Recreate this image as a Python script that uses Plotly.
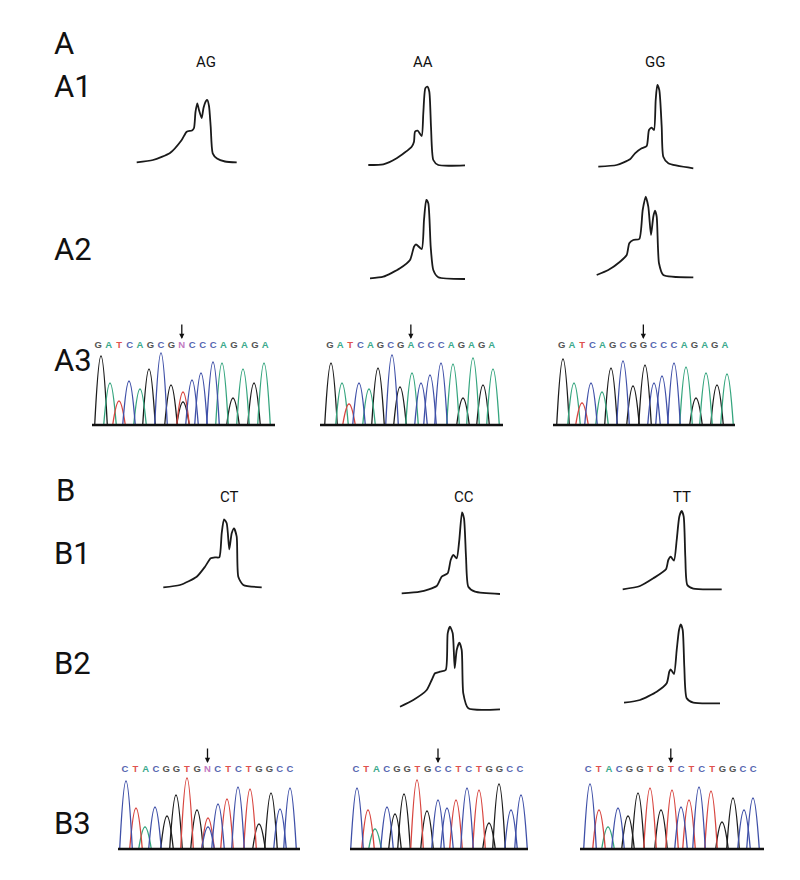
import plotly.graph_objects as go

# the page body keeps its default 8px margin, so the figure is drawn 8px in
PAGE_OFF = 8
W, H = 784, 864
FONT = "Roboto, DejaVu Sans, sans-serif"

# ---- melting curves (x: temperature offset, y: -dF/dT, panel units) ----
A1_AG_X = [6.7, 23, 40, 51.7, 56.7, 62, 64, 65.5, 67.3, 69, 71.7, 73.5, 76, 77.3, 79, 80.7, 82.7, 87, 95, 106.7]
A1_AG_Y = [7.7, 10, 17, 30, 38.3, 39.5, 42, 58, 66.7, 60, 52, 62, 69, 70, 64, 43.3, 16.7, 11.5, 8.5, 7.7]

A1_AA_X = [8.3, 23.3, 36.7, 51.7, 54, 55, 57.7, 61.7, 63.3, 65.3, 67.3, 69.3, 71, 73.3, 78.3, 105]
A1_AA_Y = [7, 7.7, 13.7, 25.3, 30.3, 40.3, 41.3, 36, 58.7, 83.7, 85.3, 80.3, 45.3, 12, 7, 6.7]

A1_GG_X = [8.3, 26.7, 40, 45, 51.7, 56.7, 59, 61.7, 64, 65.7, 67.3, 69.3, 71.7, 73.3, 78.3, 103.3]
A1_GG_Y = [5.3, 7, 12.7, 18.7, 23.7, 26, 42, 44.3, 42, 72, 87, 82, 45.3, 15.3, 8.7, 3.7]

A2_AA_X = [10, 23.3, 40, 50, 54, 56, 61.7, 64, 66.3, 68.3, 70.7, 73.3, 78.3, 105]
A2_AA_Y = [6.7, 8.3, 16.7, 25, 38.3, 40.7, 36, 65, 85, 81.7, 38.3, 15, 7.7, 6]

A2_GG_X = [6.7, 18.3, 30, 36.7, 39.3, 43.3, 49.3, 52.7, 55.7, 58.3, 61, 63.3, 65, 66.7, 69, 73.3, 103.3]
A2_GG_Y = [10, 15, 23.3, 30, 41.7, 45, 46, 75, 88.3, 78.3, 50, 68.3, 74.3, 68.3, 21.7, 10, 7.7]

B1_CT_X = [8.3, 25, 41.7, 50, 55.7, 60, 64.3, 66.7, 69, 71.7, 74.3, 76.7, 79, 81.7, 83.3, 88.3, 106.7]
B1_CT_Y = [7.7, 10, 18.3, 28.3, 36.7, 37.7, 37.7, 61.7, 75.7, 71.7, 45.7, 61.7, 66.7, 58.3, 18.3, 10, 7.7]

B1_CC_X = [6.7, 25, 41.7, 46.7, 52.7, 55.7, 58.3, 61.7, 64.3, 67, 69, 71, 73.3, 80, 105]
B1_CC_Y = [6.7, 8.3, 14, 23.3, 26.7, 40, 45, 41.7, 60, 87.7, 81.7, 43.3, 13.3, 8.3, 6]

B1_TT_X = [7.7, 25, 38.3, 51, 53.3, 55.7, 59, 61.7, 64.3, 66.7, 68.7, 70.3, 72.3, 78.3, 106.7]
B1_TT_Y = [7.7, 11, 18.7, 27.7, 37, 40.3, 36.3, 57, 80.3, 86, 80.3, 40.3, 12, 8.3, 7.7]

B2_CC_X = [5, 18.3, 31.7, 36.7, 40, 45, 50.7, 52.7, 55, 57.7, 59.7, 61.7, 64.3, 66.7, 68.3, 73.3, 105]
B2_CC_Y = [8.3, 15, 25, 35, 41.7, 43.3, 45, 81.7, 88.3, 81.7, 46.7, 65, 72.3, 65, 21.7, 6.7, 5.7]

B2_TT_X = [9, 25, 41.7, 51.7, 54.3, 55.7, 59, 61.7, 64, 65.7, 67.7, 69.3, 71.7, 78.3, 105]
B2_TT_Y = [9.3, 12, 20.3, 28.7, 40.3, 42.7, 38, 62, 82, 87.7, 82, 45.3, 13.7, 9.3, 8.7]

# ---- sequencing traces: called sequence, peak positions, peak heights ----
A3_AG_SEQ = "GATCAGCGNCCCAGAGA"
A3_AG_PEAK_BASE = "GATCAGCGTCCCAGAGA"
A3_AG_POS = [9, 18, 27, 37, 48, 57, 69, 79, 91, 100, 109, 121, 130, 141, 151, 162, 172]
A3_AG_HT = [69, 42, 24, 44, 36, 56, 72, 40, 33, 45, 52, 63, 62, 27, 56, 42, 62]
A3_AG_HET = ("G", 23)

A3_AA_SEQ = "GATCAGCGACCCAGAGA"
A3_AA_POS = [11, 22, 29, 39, 49, 58, 72, 80, 92, 101, 110, 121, 133, 143, 153, 163, 173]
A3_AA_HT = [62, 42, 21, 42, 36, 57, 70, 38, 52, 42, 50, 62, 61, 27, 67, 40, 56]

A3_GG_SEQ = "GATCAGCGGCCCAGAGA"
A3_GG_POS = [10, 21, 29, 38, 49, 58, 70, 80, 92, 101, 109, 121, 133, 143, 153, 164, 174]
A3_GG_HT = [66, 42, 22, 42, 33, 57, 64, 39, 60, 42, 49, 62, 58, 27, 52, 40, 51]

B3_CT_SEQ = "CTACGGTGNCTCTGGCC"
B3_CT_PEAK_BASE = "CTACGGTGTCTCTGGCC"
B3_CT_POS = [8, 18, 27, 37, 49, 58, 69, 79, 90, 100, 109, 120, 132, 141, 153, 162, 172]
B3_CT_HT = [68, 41, 22, 42, 33, 54, 71, 39, 31, 45, 50, 62, 60, 25, 56, 40, 61]
B3_CT_HET = ("C", 22)

B3_CC_SEQ = "CTACGGTGCCTCTGGCC"
B3_CC_POS = [7, 18, 25, 37, 45, 54, 67, 77, 88, 97, 106, 117, 129, 139, 149, 161, 171]
B3_CC_HT = [61, 39, 20, 42, 35, 55, 69, 38, 49, 41, 49, 61, 59, 26, 65, 39, 54]

B3_TT_SEQ = "CTACGGTGTCTCTGGCC"
B3_TT_POS = [10, 19, 28, 38, 48, 58, 70, 81, 92, 101, 109, 119, 131, 142, 153, 164, 173]
B3_TT_HT = [65, 39, 22, 41, 33, 56, 61, 39, 59, 42, 49, 62, 58, 27, 51, 39, 51]

SNP_INDEX = 8

LETTER_COLOR = {"G": "#555555", "A": "#3aa98c", "T": "#e0524f", "C": "#5566b0", "N": "#c27ac2"}
PEAK_COLOR = {"G": "#1c1c1c", "A": "#35a57e", "T": "#d8453f", "C": "#3f50a8"}

fig = go.Figure()
layout_axes = {}
axis_count = [0]


def fx(px):
    return (px - PAGE_OFF) / W


def fy(py):
    return 1 - (py - PAGE_OFF) / H


def add_axes(left, bottom, width, height, xr, yr):
    axis_count[0] += 1
    n = axis_count[0]
    sx = "" if n == 1 else str(n)
    layout_axes["xaxis" + sx] = dict(domain=[fx(left), fx(left + width)], range=xr,
                                     visible=False, fixedrange=True, anchor="y" + sx)
    layout_axes["yaxis" + sx] = dict(domain=[fy(bottom), fy(bottom - height)], range=yr,
                                     visible=False, fixedrange=True, anchor="x" + sx)
    return "x" + sx, "y" + sx


def melt_panel(left, bottom, xs, ys):
    xa, ya = add_axes(left, bottom, 110, 95, [0, 110], [0, 95])
    fig.add_trace(go.Scatter(x=xs, y=ys, mode="lines", xaxis=xa, yaxis=ya,
                             line=dict(color="#1a1a1a", width=1.8, shape="spline", smoothing=0.6),
                             hoverinfo="skip", showlegend=False))


def trace_panel(left, base, width, seq, peak_base, pos, ht, het=None, letters=(8, 172)):
    xa, ya = add_axes(left, base + 4, width, 114, [0, width], [-4, 110])
    peaks = [(pos[i], ht[i], peak_base[i]) for i in range(len(pos))]
    if het:
        peaks.append((pos[SNP_INDEX], het[1], het[0]))
    for b, col in PEAK_COLOR.items():
        px, py = [], []
        for p, h, pb in peaks:
            if pb == b:
                px += [p - 6.3, p, p + 6.3, None]
                py += [0, h, 0, None]
        fig.add_trace(go.Scatter(x=px, y=py, mode="lines", xaxis=xa, yaxis=ya,
                                 line=dict(color=col, width=1.3, shape="spline", smoothing=1.3),
                                 hoverinfo="skip", showlegend=False))
    fig.add_shape(type="line", xref=xa + " domain", yref=ya, x0=0, x1=1, y0=0, y1=0,
                  line=dict(color="#111111", width=2.5))
    # letters sit on their own evenly spaced index axis over the same box
    step = (letters[1] - letters[0]) / (len(seq) - 1)
    la, lya = add_axes(left, base + 4, width, 114,
                       [-letters[0] / step, (width - letters[0]) / step], [-4, 110])
    idx = list(range(len(seq)))
    fig.add_trace(go.Scatter(x=idx, y=[79] * len(seq), mode="text", text=list(seq),
                             xaxis=la, yaxis=lya, hoverinfo="skip", showlegend=False,
                             textfont=dict(family="Liberation Sans, Arial, sans-serif", size=9.5,
                                           weight="bold", color=[LETTER_COLOR[c] for c in seq])))
    fig.add_annotation(x=SNP_INDEX, y=86, xref=la, yref=lya, ax=0, ay=-16, text="",
                       showarrow=True, arrowhead=2, arrowsize=0.8, arrowwidth=1.3, arrowcolor="#111111")


melt_panel(130, 170, A1_AG_X, A1_AG_Y)
melt_panel(360, 172, A1_AA_X, A1_AA_Y)
melt_panel(590, 172, A1_GG_X, A1_GG_Y)
melt_panel(360, 285, A2_AA_X, A2_AA_Y)
melt_panel(590, 285, A2_GG_X, A2_GG_Y)

trace_panel(92, 425, 183, A3_AG_SEQ, A3_AG_PEAK_BASE, A3_AG_POS, A3_AG_HT, A3_AG_HET, (6.3, 173.3))
trace_panel(320, 425, 183, A3_AA_SEQ, A3_AA_SEQ, A3_AA_POS, A3_AA_HT, None, (10, 171.7))
trace_panel(553, 425, 182, A3_GG_SEQ, A3_GG_SEQ, A3_GG_POS, A3_GG_HT, None, (8.7, 172))

melt_panel(155, 595, B1_CT_X, B1_CT_Y)
melt_panel(395, 600, B1_CC_X, B1_CC_Y)
melt_panel(615, 597, B1_TT_X, B1_TT_Y)
melt_panel(395, 715, B2_CC_X, B2_CC_Y)
melt_panel(615, 712, B2_TT_X, B2_TT_Y)

trace_panel(118, 849, 182, B3_CT_SEQ, B3_CT_PEAK_BASE, B3_CT_POS, B3_CT_HT, B3_CT_HET, (7, 172))
trace_panel(350, 849, 178, B3_CC_SEQ, B3_CC_SEQ, B3_CC_POS, B3_CC_HT, None, (6, 170))
trace_panel(580, 849, 184, B3_TT_SEQ, B3_TT_SEQ, B3_TT_POS, B3_TT_HT, None, (8.3, 173.3))

# panel and genotype labels
row_labels = [("A", 52, 44), ("A1", 52, 86), ("A2", 52, 250), ("A3", 52, 360),
              ("B", 54, 490), ("B1", 52, 553), ("B2", 52, 663), ("B3", 52, 823)]
for txt, x, y in row_labels:
    fig.add_annotation(x=fx(x), y=fy(y), xref="paper", yref="paper", text=txt, showarrow=False,
                       xanchor="left", yanchor="middle", font=dict(family=FONT, size=31, color="#111111"))

geno_labels = [("AG", 206, 62), ("AA", 423, 62), ("GG", 655, 62),
               ("CT", 229, 497), ("CC", 464, 497), ("TT", 682, 497)]
for txt, x, y in geno_labels:
    fig.add_annotation(x=fx(x), y=fy(y), xref="paper", yref="paper", text=txt, showarrow=False,
                       xanchor="center", yanchor="middle", font=dict(family=FONT, size=15, color="#111111"))

fig.update_layout(width=W, height=H, margin=dict(l=0, r=0, t=0, b=0),
                  paper_bgcolor="white", plot_bgcolor="rgba(0,0,0,0)", **layout_axes)

fig.write_html("out.html")
